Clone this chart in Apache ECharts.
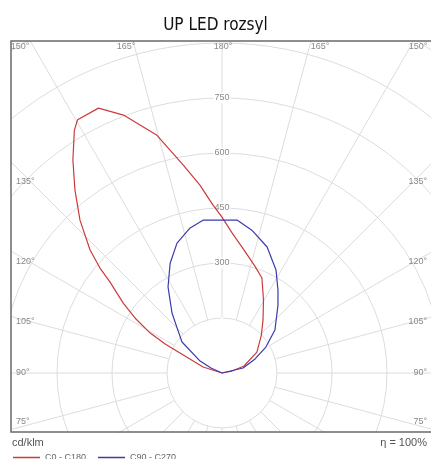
<!DOCTYPE html>
<html>
<head>
<meta charset="utf-8">
<script src="https://cdn.jsdelivr.net/npm/echarts@6/dist/echarts.min.js"></script>
<style>
  html, body { margin: 0; padding: 0; background: #fff; }
  #chart { width: 431px; height: 459px; }
</style>
</head>
<body>
<div id="chart"></div>
<script>
// gamma angle (deg, 0 = down, 180 = up) and intensity cd/klm
const redLeftGamma  = [90, 107.5, 115.5, 117, 119.1, 122.1, 125.3, 129.1, 130.7, 133, 137.1, 141.2, 145, 148.7, 150.3, 155, 159.1, 164.7, 169.5, 173.3, 177, 180];
const redLeftI      = [0, 54, 127, 174, 224, 277, 330, 394, 439, 492, 569, 640, 709, 775, 795, 797, 753, 672, 576, 516, 458, 425];
const redRightGamma = [180, 175.9, 169.9, 162.9, 157.2, 150.4, 142.3, 133.9, 121, 107.6, 101, 90];
const redRightI     = [425, 383, 341, 305, 281, 229, 183, 149, 111, 63, 28, 0];
const blueLeftGamma = [90, 114.4, 118.6, 127.8, 135, 140.2, 144.5, 147.9, 154.7, 160.9, 167.6, 172.9, 180];
const blueLeftI     = [0, 33, 68, 138, 173, 213, 244, 277, 331, 375, 405, 420, 417];
const blueRightGamma = [180, 174.4, 168.2, 160.3, 152.3, 146, 140.5, 129.1, 120.6, 113, 103.4, 90];
const blueRightI     = [417, 419, 398, 365, 317, 273, 240, 186, 139, 98, 59, 0];
const radiusTicks = [300, 450, 600, 750];
const topAngleLabels = ['150°', '165°', '180°', '165°', '150°'];
const sideAngleLabels = ['135°', '120°', '105°', '90°', '75°'];

function toPolar(lg, li, rg, ri) {
    let d = [];
    for (let i = 0; i < lg.length; i++) d.push([li[i], lg[i]]);
    for (let i = 0; i < rg.length; i++) d.push([ri[i], 360 - rg[i]]);
    return d;
}

const chart = echarts.init(document.getElementById('chart'));

const center = [222, 373];
const labelStyle = { fill: '#888', fontSize: 9, fontFamily: 'Liberation Sans' };

let graphics = [
    // masks outside the frame
    { type: 'rect', z: 50, shape: { x: 0, y: 0, width: 431, height: 41 }, style: { fill: '#fff' } },
    { type: 'rect', z: 50, shape: { x: 0, y: 433, width: 431, height: 26 }, style: { fill: '#fff' } },
    { type: 'rect', z: 50, shape: { x: 0, y: 0, width: 11, height: 459 }, style: { fill: '#fff' } },
    { type: 'rect', z: 60, shape: { x: 11, y: 41, width: 440, height: 391 }, style: { fill: 'none', stroke: '#6a6a6a', lineWidth: 1.5 } },
    { type: 'text', z: 100, left: 12, top: 437, style: { text: 'cd/klm', fill: '#555', fontSize: 11, fontFamily: 'Liberation Sans' } },
    { type: 'text', z: 100, right: 4, top: 437, style: { text: 'η = 100%', fill: '#555', fontSize: 11, fontFamily: 'Liberation Sans' } }
];
const topX = [20, 126, 223, 320, 418];
topAngleLabels.forEach((t, i) => graphics.push({ type: 'text', z: 70, x: topX[i], y: 47,
    style: Object.assign({ text: t, textAlign: 'center', textVerticalAlign: 'middle' }, labelStyle) }));
const sideY = [182, 262, 322, 373, 422];
sideAngleLabels.forEach((t, i) => {
    graphics.push({ type: 'text', z: 70, x: 16, y: sideY[i],
        style: Object.assign({ text: t, textAlign: 'left', textVerticalAlign: 'middle' }, labelStyle) });
    graphics.push({ type: 'text', z: 70, x: 427, y: sideY[i],
        style: Object.assign({ text: t, textAlign: 'right', textVerticalAlign: 'middle' }, labelStyle) });
});

const option = {
    animation: false,
    title: {
        text: 'UP LED rozsyl', left: 'center', top: 12, z: 100,
        textStyle: { fontSize: 17, fontWeight: 'normal', color: '#111', fontFamily: 'DejaVu Sans Condensed' }
    },
    legend: {
        z: 100, left: 8, top: 448, itemWidth: 27, itemHeight: 1.5, itemGap: 12, icon: 'rect',
        textStyle: { fontSize: 9, color: '#666', fontFamily: 'Liberation Sans' },
        data: ['C0 - C180', 'C90 - C270']
    },
    polar: [
        { center: center, radius: [55, 385] },
        { center: center, radius: [0, 385] },
        { center: center, radius: [0, 385] }
    ],
    angleAxis: [
        { polarIndex: 0, startAngle: 270, min: 0, max: 360, interval: 15, z: 0,
          axisLine: { show: false }, axisTick: { show: false }, axisLabel: { show: false },
          splitLine: { show: true, lineStyle: { color: '#dcdcdc', width: 1 } } },
        { polarIndex: 1, startAngle: 270, min: 0, max: 360, show: false },
        { polarIndex: 2, startAngle: 90, min: 0, max: 360, show: false }
    ],
    radiusAxis: [
        { polarIndex: 0, min: 150, max: 1050, interval: 150, z: 0,
          axisLine: { show: false }, axisTick: { show: false }, axisLabel: { show: false },
          splitLine: { show: true, lineStyle: { color: '#dcdcdc', width: 1 } } },
        { polarIndex: 1, min: 0, max: 1050, show: false },
        { polarIndex: 2, min: 0, max: 1050, interval: 150, z: 1,
          axisLine: { show: false }, axisTick: { show: false }, splitLine: { show: false },
          axisLabel: {
              margin: 0, align: 'center', verticalAlign: 'middle',
              color: '#888', fontSize: 9, fontFamily: 'Liberation Sans',
              backgroundColor: '#fff', padding: [1, 1],
              formatter: v => radiusTicks.includes(v) ? String(v) : ''
          } }
    ],
    series: [
        {
            name: 'C0 - C180', type: 'line', coordinateSystem: 'polar', polarIndex: 1,
            symbol: 'none', clip: false, z: 5,
            lineStyle: { color: '#cc3b3b', width: 1.2 }, itemStyle: { color: '#cc3b3b' },
            data: toPolar(redLeftGamma, redLeftI, redRightGamma, redRightI)
        },
        {
            name: 'C90 - C270', type: 'line', coordinateSystem: 'polar', polarIndex: 1,
            symbol: 'none', clip: false, z: 5,
            lineStyle: { color: '#3b3bab', width: 1.2 }, itemStyle: { color: '#3b3bab' },
            data: toPolar(blueLeftGamma, blueLeftI, blueRightGamma, blueRightI)
        }
    ],
    graphic: graphics
};

chart.setOption(option);
</script>
</body>
</html>
